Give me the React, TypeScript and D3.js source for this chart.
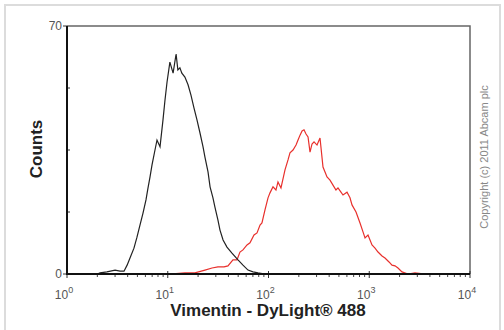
import React, { useRef, useEffect } from 'react';
import * as d3 from 'd3';

// fluorescence intensity (x) and counts (y)
const controlX = [2.0, 2.13, 2.49, 3.0, 3.36, 3.68, 3.95, 4.22, 4.62, 4.95, 5.3, 5.68, 6.08, 6.37, 6.67, 6.98, 7.47, 7.82, 8.38, 8.97, 9.39, 9.84, 10.5, 11.3, 12.1, 12.6, 13.2, 13.8, 14.8, 15.9, 17.0, 18.2, 19.5, 20.9, 22.4, 23.4, 25.1, 26.3, 28.1, 29.4, 31.5, 33.0, 35.4, 38.7, 43.4, 49.8, 55.8, 62.6, 70.2, 78.7, 92.3];
const controlY = [0, 0.3, 0.6, 1.1, 0.8, 0.8, 2.5, 4.5, 7.3, 10.4, 13.8, 17.2, 20.9, 24.3, 27.4, 30.8, 35.0, 37.8, 35.9, 43.5, 49.1, 54.2, 59.8, 56.7, 62.1, 57.6, 58.2, 56.7, 55.6, 53.4, 50.5, 46.9, 43.5, 39.8, 35.9, 33.0, 28.8, 24.6, 21.5, 18.9, 15.2, 12.4, 9.6, 7.6, 5.9, 4.0, 2.5, 1.1, 0.6, 0.3, 0];

const vimentinX = [10.5, 14.8, 18.6, 23.4, 27.5, 31.5, 36.2, 39.6, 44.4, 48.7, 52.1, 55.8, 61.2, 65.5, 71.8, 76.9, 82.4, 86.1, 92.3, 98.9, 103.5, 110.8, 118.6, 124.2, 133.0, 145.8, 156.2, 163.4, 175.1, 187.6, 196.4, 205.6, 215.3, 225.1, 235.7, 246.8, 258.3, 270.4, 283.1, 303.1, 324.5, 347.5, 380.9, 407.8, 436.6, 467.5, 489.5, 524.0, 548.7, 601.5, 644.0, 674.3, 738.9, 809.8, 866.9, 907.8, 972.0, 1065, 1141, 1222, 1339, 1433, 1571, 1682, 1802, 1929, 2114, 2426, 2845, 3575, 5040];
const vimentinY = [0, 0.3, 0.3, 1.1, 1.7, 2.0, 2.0, 2.3, 4.0, 4.0, 6.2, 6.8, 8.2, 8.8, 11.0, 11.6, 13.8, 14.4, 18.1, 21.5, 22.9, 24.6, 23.7, 26.0, 24.3, 29.4, 32.2, 34.2, 35.0, 36.4, 37.8, 39.2, 40.4, 40.7, 39.5, 38.7, 34.4, 36.7, 37.3, 36.4, 38.4, 30.2, 27.4, 26.5, 25.1, 23.7, 24.3, 23.1, 22.3, 23.1, 21.5, 19.5, 17.5, 14.4, 11.9, 10.2, 11.0, 8.2, 7.3, 6.2, 5.1, 4.5, 3.4, 2.5, 2.3, 1.7, 0.6, 0, 0.3, 0, 0];

const xDecades = [0, 1, 2, 3, 4];
const yTicks = [0, 17.5, 35, 52.5, 70];

const App = () => {
    const ref = useRef<SVGSVGElement>(null);

    useEffect(() => {
        const svg = d3.select(ref.current);
        svg.selectAll("*").remove();

        const margin = { top: 26, right: 34, bottom: 56, left: 67 };
        const width = 504, height = 330;

        const x = d3.scaleLog().domain([1, 10000]).range([margin.left, width - margin.right]);
        const y = d3.scaleLinear().domain([0, 70]).range([height - margin.bottom, margin.top]);

        // outer light frame
        svg.append("rect")
            .attr("x", 5).attr("y", 5)
            .attr("width", 495).attr("height", 340)
            .attr("fill", "none").attr("stroke", "#dcdcdc").attr("stroke-width", 2);

        // top + right frame
        svg.append("path")
            .attr("d", `M${x(1)},${y(70)}H${x(10000)}V${y(0)}`)
            .attr("fill", "none").attr("stroke", "#666").attr("stroke-width", 1.5);

        // y ticks
        yTicks.forEach(t => {
            const ends = t === 0 || t === 70;
            svg.append("line")
                .attr("x1", ends ? x(1) - 4 : x(1)).attr("x2", ends ? x(1) : x(1) + 3)
                .attr("y1", y(t)).attr("y2", y(t))
                .attr("stroke", "#333").attr("stroke-width", 1);
        });
        [0, 70].forEach(t => {
            svg.append("text")
                .attr("x", x(1) - 5).attr("y", y(t) + 4)
                .attr("text-anchor", "end")
                .attr("font-family", "Liberation Sans, Arial, sans-serif")
                .attr("font-size", 12).attr("fill", "#555")
                .text(t);
        });

        // x minor ticks
        const minor: number[] = [];
        xDecades.slice(0, -1).forEach(d => {
            for (let k = 2; k <= 9; k++) minor.push(k * Math.pow(10, d));
        });
        minor.forEach(v => {
            svg.append("line")
                .attr("x1", x(v)).attr("x2", x(v))
                .attr("y1", y(0)).attr("y2", y(0) + 3)
                .attr("stroke", "#444").attr("stroke-width", 1);
        });
        xDecades.forEach(d => {
            const v = Math.pow(10, d);
            svg.append("line")
                .attr("x1", x(v)).attr("x2", x(v))
                .attr("y1", y(0) - 3).attr("y2", y(0) + 4)
                .attr("stroke", "#333").attr("stroke-width", 1);
            const t = svg.append("text")
                .attr("x", x(v) - 3).attr("y", 299)
                .attr("text-anchor", "middle")
                .attr("font-family", "Liberation Sans, Arial, sans-serif")
                .attr("font-size", 12).attr("fill", "#555");
            t.append("tspan").text("10");
            t.append("tspan").attr("dy", -6).attr("font-size", 9).text(d);
        });

        const line = d3.line<[number, number]>()
            .x(d => x(d[0]))
            .y(d => y(d[1]));

        svg.append("path")
            .datum(vimentinX.map((v, i) => [v, vimentinY[i]] as [number, number]))
            .attr("d", line)
            .attr("fill", "none").attr("stroke", "#e8302c").attr("stroke-width", 1.2);

        svg.append("path")
            .datum(controlX.map((v, i) => [v, controlY[i]] as [number, number]))
            .attr("d", line)
            .attr("fill", "none").attr("stroke", "#222").attr("stroke-width", 1.2);

        // left + bottom axis lines
        svg.append("path")
            .attr("d", `M${x(1)},${y(70)}V${y(0)}H${x(10000)}`)
            .attr("fill", "none").attr("stroke", "#111").attr("stroke-width", 2);

        svg.append("text")
            .attr("x", 268).attr("y", 316)
            .attr("text-anchor", "middle")
            .attr("font-family", "Liberation Sans, Arial, sans-serif")
            .attr("font-size", 17).attr("font-weight", "bold").attr("fill", "#222")
            .text("Vimentin - DyLight® 488");

        svg.append("text")
            .attr("transform", "translate(42,149) rotate(-90)")
            .attr("text-anchor", "middle")
            .attr("font-family", "Liberation Sans, Arial, sans-serif")
            .attr("font-size", 17).attr("font-weight", "bold").attr("fill", "#222")
            .text("Counts");

        svg.append("text")
            .attr("transform", "translate(488,157) rotate(-90)")
            .attr("text-anchor", "middle")
            .attr("font-family", "Liberation Sans, Arial, sans-serif")
            .attr("font-size", 11).attr("fill", "#888")
            .text("Copyright (c) 2011 Abcam plc");
    }, []);

    return (
        <svg ref={ref} width={504} height={330}
            style={{ position: "absolute", left: 0, top: 0, background: "#fff" }}></svg>
    );
};

export default App;
